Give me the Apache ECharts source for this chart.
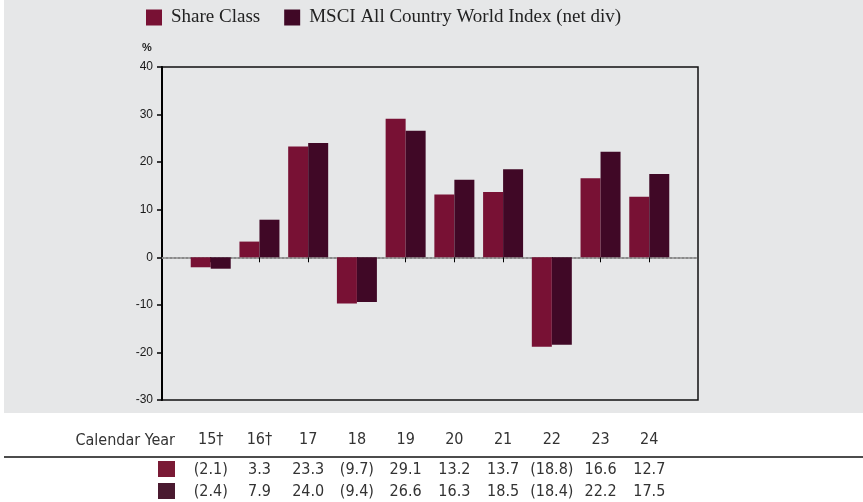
<!DOCTYPE html>
<html>
<head>
<meta charset="utf-8">
<script src="https://cdn.jsdelivr.net/npm/echarts@6/dist/echarts.min.js"></script>
<style>
  html, body { margin: 0; padding: 0; background: #fff; }
  #chart { width: 863px; height: 502px; }
</style>
</head>
<body>
<div id="chart"></div>
<script>
// calendar years and yearly returns (%)
const years = ['15†', '16†', '17', '18', '19', '20', '21', '22', '23', '24'];
const shareClass = [-2.1, 3.3, 23.3, -9.7, 29.1, 13.2, 13.7, -18.8, 16.6, 12.7];
const msciIndex = [-2.4, 7.9, 24.0, -9.4, 26.6, 16.3, 18.5, -18.4, 22.2, 17.5];
const yTicks = { min: -30, max: 40, interval: 10 };

const shareColor = '#781134';
const indexColor = '#400826';
const tableFont = '"DejaVu Sans Condensed", "Liberation Sans Narrow", sans-serif';

// an empty slot on each side so the bars sit like the original
function pad(arr, empty) {
  return [empty].concat(arr, [empty]);
}
function fmt(v) {
  return v < 0 ? '(' + Math.abs(v).toFixed(1) + ')' : v.toFixed(1);
}

function tableAxis(labels, offset) {
  return {
    type: 'category',
    gridIndex: 0,
    position: 'bottom',
    offset: offset,
    boundaryGap: false,
    data: pad(labels, ''),
    axisLine: { show: false, onZero: false },
    axisTick: { show: false },
    splitLine: { show: false },
    axisLabel: {
      interval: 0,
      margin: 0,
      color: '#333',
      fontFamily: tableFont,
      fontSize: 16
    }
  };
}

var myChart = echarts.init(document.getElementById('chart'));

var option = {
  animation: false,
  backgroundColor: '#fff',
  legend: {
    left: 141,
    top: 3,
    itemWidth: 16,
    itemHeight: 16,
    itemGap: 24,
    icon: 'rect',
    textStyle: {
      fontFamily: '"Liberation Serif", serif',
      fontSize: 19,
      color: '#222',
      padding: [0, 0, 0, 4]
    },
    data: ['Share Class', 'MSCI All Country World Index (net div)']
  },
  grid: {
    left: 162,
    top: 67,
    width: 536,
    height: 333,
    show: true,
    borderColor: '#111',
    borderWidth: 1.5,
    backgroundColor: 'transparent'
  },
  xAxis: [
    {
      type: 'category',
      boundaryGap: false,
      data: pad(years, ''),
      axisLine: {
        onZero: true,
        lineStyle: { color: '#8a8a8a', width: 2, type: 'dotted' }
      },
      axisTick: {
        interval: function (idx) { return idx > 0 && idx < years.length + 1; },
        length: 5,
        lineStyle: { color: '#000', width: 1 }
      },
      axisLabel: { show: false },
      splitLine: { show: false }
    },
    tableAxis(years, 32),
    tableAxis(shareClass.map(fmt), 62),
    tableAxis(msciIndex.map(fmt), 84)
  ],
  yAxis: {
    type: 'value',
    min: yTicks.min,
    max: yTicks.max,
    interval: yTicks.interval,
    axisLine: { show: true, lineStyle: { color: '#000', width: 2 } },
    axisTick: { show: true, length: 5, lineStyle: { color: '#000', width: 1.5 } },
    axisLabel: {
      margin: 9,
      color: '#1a1a1a',
      fontFamily: '"Liberation Sans", Arial, sans-serif',
      fontSize: 12
    },
    splitLine: { show: false }
  },
  series: [
    {
      name: 'Share Class',
      type: 'bar',
      data: pad(shareClass, null),
      barWidth: 20,
      barGap: '0%',
      itemStyle: { color: shareColor }
    },
    {
      name: 'MSCI All Country World Index (net div)',
      type: 'bar',
      data: pad(msciIndex, null),
      barWidth: 20,
      barGap: '0%',
      itemStyle: { color: indexColor }
    }
  ],
  graphic: [
    // gray panel behind the chart
    {
      type: 'rect',
      z: -10,
      shape: { x: 4, y: 0, width: 859, height: 413 },
      style: { fill: '#e6e7e8' }
    },
    {
      type: 'text',
      left: 142,
      top: 42,
      style: { text: '%', fill: '#222', font: 'bold 11px "Liberation Sans", Arial, sans-serif' }
    },
    {
      type: 'text',
      right: 863 - 175,
      top: 433,
      style: { text: 'Calendar Year', fill: '#333', font: '16px ' + tableFont }
    },
    {
      type: 'line',
      shape: { x1: 4, y1: 457, x2: 863, y2: 457 },
      style: { stroke: '#111', lineWidth: 1.5 }
    },
    {
      type: 'rect',
      shape: { x: 158, y: 461, width: 17, height: 16 },
      style: { fill: '#7a1a35' }
    },
    {
      type: 'rect',
      shape: { x: 158, y: 483, width: 17, height: 16 },
      style: { fill: '#4a1a30' }
    }
  ]
};

myChart.setOption(option);
</script>
</body>
</html>
